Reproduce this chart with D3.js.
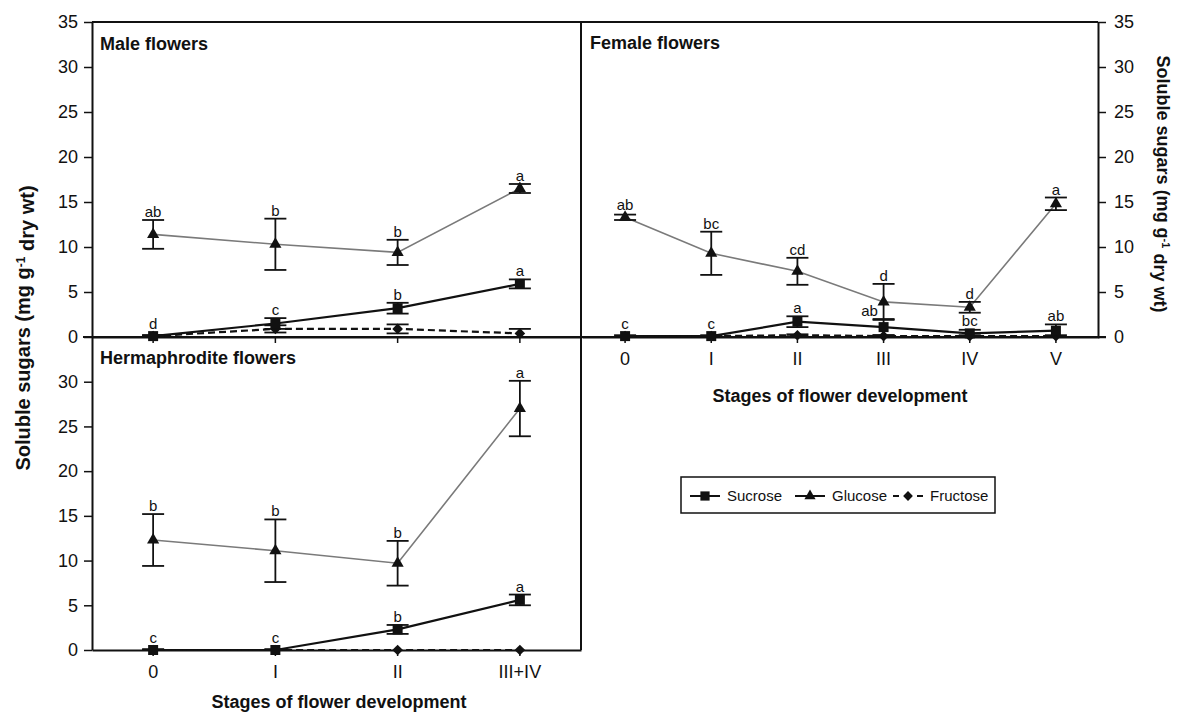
<!DOCTYPE html>
<html>
<head>
<meta charset="utf-8">
<script src="https://cdn.jsdelivr.net/npm/d3@7"></script>
<style>
  body { margin: 0; background: #fff; }
  svg { display: block; }
  text { font-family: "Liberation Sans", Arial, sans-serif; fill: #111; }
</style>
</head>
<body>
<svg id="chart" width="1179" height="716"></svg>
<script>
// ---------- data: soluble sugars (mg g-1 dry wt), mean and SE per stage ----------
const maleStages   = ["0", "I", "II", "III+IV"];
const hermStages   = ["0", "I", "II", "III+IV"];
const femaleStages = ["0", "I", "II", "III", "IV", "V"];

const maleSucrose     = [0.1, 1.5, 3.2, 5.9];
const maleSucroseSE   = [0.1, 0.6, 0.6, 0.5];
const maleSucroseSig  = ["d", "c", "b", "a"];
const maleGlucose     = [11.4, 10.3, 9.4, 16.5];
const maleGlucoseSE   = [1.6, 2.85, 1.4, 0.5];
const maleGlucoseSig  = ["ab", "b", "b", "a"];
const maleFructose    = [0.1, 0.9, 0.9, 0.4];
const maleFructoseSE  = [0.1, 0.4, 0.5, 0.5];

const hermSucrose     = [0.0, 0.0, 2.3, 5.6];
const hermSucroseSE   = [0.1, 0.1, 0.5, 0.6];
const hermSucroseSig  = ["c", "c", "b", "a"];
const hermGlucose     = [12.3, 11.1, 9.7, 27.0];
const hermGlucoseSE   = [2.9, 3.5, 2.5, 3.1];
const hermGlucoseSig  = ["b", "b", "b", "a"];
const hermFructose    = [0.0, 0.0, 0.0, 0.0];
const hermFructoseSE  = [0.0, 0.0, 0.0, 0.0];

const femaleSucrose    = [0.1, 0.1, 1.7, 1.1, 0.4, 0.7];
const femaleSucroseSE  = [0.1, 0.1, 0.6, 0.9, 0.4, 0.7];
const femaleSucroseSig = ["c", "c", "a", "ab", "bc", "ab"];
const femaleGlucose    = [13.3, 9.3, 7.3, 3.9, 3.3, 14.8];
const femaleGlucoseSE  = [0.3, 2.4, 1.5, 2.0, 0.6, 0.7];
const femaleGlucoseSig = ["ab", "bc", "cd", "d", "d", "a"];
const femaleFructose   = [0.1, 0.1, 0.2, 0.1, 0.1, 0.1];
const femaleFructoseSE = [0.0, 0.0, 0.1, 0.1, 0.1, 0.1];

const yTicks     = [0, 5, 10, 15, 20, 25, 30, 35];
const hermYTicks = [0, 5, 10, 15, 20, 25, 30];
const seriesNames = ["Sucrose", "Glucose", "Fructose"];

// ---------- layout ----------
const svg = d3.select("#chart");
const L = 92, MID = 581, R = 1098, TOP = 22, Y0 = 337, BOT = 650;

const styles = {
  Sucrose:  { stroke: "#111", width: 2.2, dash: null,  symbol: d3.symbolSquare,   size: 100 },
  Glucose:  { stroke: "#7a7a7a", width: 1.6, dash: null, symbol: d3.symbolTriangle, size: 64 },
  Fructose: { stroke: "#111", width: 2.2, dash: "7,4", symbol: d3.symbolDiamond2, size: 72 }
};

const panels = [
  { key: "male", title: "Male flowers", stages: maleStages, xr: [L, MID], yr: [Y0, TOP],
    series: {
      Sucrose:  { v: maleSucrose,  se: maleSucroseSE,  sig: maleSucroseSig },
      Glucose:  { v: maleGlucose,  se: maleGlucoseSE,  sig: maleGlucoseSig },
      Fructose: { v: maleFructose, se: maleFructoseSE, sig: null } } },
  { key: "herm", title: "Hermaphrodite flowers", stages: hermStages, xr: [L, MID], yr: [BOT, Y0],
    series: {
      Sucrose:  { v: hermSucrose,  se: hermSucroseSE,  sig: hermSucroseSig },
      Glucose:  { v: hermGlucose,  se: hermGlucoseSE,  sig: hermGlucoseSig },
      Fructose: { v: hermFructose, se: hermFructoseSE, sig: null } } },
  { key: "female", title: "Female flowers", stages: femaleStages, xr: [MID + 1, R + 1], yr: [Y0, TOP],
    series: {
      Sucrose:  { v: femaleSucrose,  se: femaleSucroseSE,  sig: femaleSucroseSig },
      Glucose:  { v: femaleGlucose,  se: femaleGlucoseSE,  sig: femaleGlucoseSig },
      Fructose: { v: femaleFructose, se: femaleFructoseSE, sig: null } } }
];

// letters that sit beside their point instead of above it
const labelShift = { "female-Sucrose-3": -14 };

panels.forEach(p => {
  p.x = d3.scaleBand().domain(p.stages).range(p.xr);
  p.cx = s => p.x(s) + p.x.bandwidth() / 2;
  p.y = d3.scaleLinear().domain([0, 35]).range(p.yr);
});
const [male, herm, female] = panels;

// ---------- axes ----------
function styleAxis(g, fontSize) {
  g.selectAll("path.domain").attr("stroke", "#111").attr("stroke-width", 2);
  g.selectAll(".tick line").attr("stroke", "#111").attr("stroke-width", 1.5);
  g.selectAll(".tick text").style("font-size", fontSize + "px").attr("fill", "#111");
}

svg.append("g").attr("transform", `translate(${L},0)`)
  .call(d3.axisLeft(male.y).tickValues(yTicks).tickSize(8).tickSizeOuter(0).tickPadding(6))
  .call(g => styleAxis(g, 18));
svg.append("g").attr("transform", `translate(${L},0)`)
  .call(d3.axisLeft(herm.y).tickValues(hermYTicks).tickSize(8).tickSizeOuter(0).tickPadding(6))
  .call(g => styleAxis(g, 18));
svg.append("g").attr("transform", `translate(${R},0)`)
  .call(d3.axisRight(female.y).tickValues(yTicks).tickSize(8).tickSizeOuter(0).tickPadding(8))
  .call(g => styleAxis(g, 18));

svg.append("g").attr("transform", `translate(0,${Y0})`)
  .call(d3.axisBottom(male.x).tickSize(6).tickSizeOuter(0).tickFormat(""))
  .call(g => styleAxis(g, 18));
svg.append("g").attr("transform", `translate(0,${Y0})`)
  .call(d3.axisBottom(female.x).tickSize(6).tickSizeOuter(0).tickPadding(9))
  .call(g => styleAxis(g, 18));
svg.append("g").attr("transform", `translate(0,${BOT})`)
  .call(d3.axisBottom(herm.x).tickSize(6).tickSizeOuter(0).tickPadding(9))
  .call(g => styleAxis(g, 18));

// frame lines shared between panels
const frame = svg.append("g").attr("stroke", "#111").attr("stroke-width", 2);
frame.append("line").attr("x1", L).attr("x2", R).attr("y1", TOP).attr("y2", TOP);
frame.append("line").attr("x1", MID).attr("x2", MID).attr("y1", TOP).attr("y2", BOT);
frame.append("line").attr("x1", L - 9).attr("x2", R + 8).attr("y1", Y0).attr("y2", Y0);

// ---------- series ----------
panels.forEach(p => {
  const g = svg.append("g");
  // lines first
  seriesNames.forEach(name => {
    const s = p.series[name], st = styles[name];
    const line = d3.line().x((d, i) => p.cx(p.stages[i])).y(d => p.y(d));
    g.append("path").datum(s.v).attr("d", line)
      .attr("fill", "none").attr("stroke", st.stroke).attr("stroke-width", st.width)
      .attr("stroke-dasharray", st.dash);
  });
  // error bars and markers
  ["Fructose", "Sucrose", "Glucose"].forEach(name => {
    const s = p.series[name], st = styles[name];
    s.v.forEach((v, i) => {
      const cx = p.cx(p.stages[i]);
      if (s.se[i] > 0) {
        const y1 = p.y(v + s.se[i]), y2 = p.y(Math.max(0, v - s.se[i]));
        const eb = g.append("g").attr("stroke", "#111").attr("stroke-width", 1.8);
        eb.append("line").attr("x1", cx).attr("x2", cx).attr("y1", y1).attr("y2", y2);
        eb.append("line").attr("x1", cx - 11).attr("x2", cx + 11).attr("y1", y1).attr("y2", y1);
        eb.append("line").attr("x1", cx - 11).attr("x2", cx + 11).attr("y1", y2).attr("y2", y2);
      }
      g.append("path").attr("d", d3.symbol().type(st.symbol).size(st.size)())
        .attr("transform", `translate(${cx},${p.y(v)})`).attr("fill", "#111");
    });
  });
  // significance letters, just above each error bar (or marker when the bar is tiny)
  ["Sucrose", "Glucose"].forEach(name => {
    const s = p.series[name];
    s.v.forEach((v, i) => {
      const top = Math.min(p.y(v + s.se[i]), p.y(v) - 4);
      const dx = labelShift[`${p.key}-${name}-${i}`] || 0;
      g.append("text").attr("x", p.cx(p.stages[i]) + dx).attr("y", top - 3)
        .attr("text-anchor", "middle").style("font-size", "15px").attr("fill", "#333")
        .text(s.sig[i]);
    });
  });
});

// ---------- titles ----------
const titleStyle = sel => sel.style("font-size", "18px").style("font-weight", "bold");
svg.append("text").attr("x", 100).attr("y", 50).text(male.title).call(titleStyle);
svg.append("text").attr("x", 590).attr("y", 49).text(female.title).call(titleStyle);
svg.append("text").attr("x", 100).attr("y", 364).text(herm.title).call(titleStyle);

svg.append("text").attr("x", 339).attr("y", 708).attr("text-anchor", "middle")
  .text("Stages of flower development").call(titleStyle);
svg.append("text").attr("x", 840).attr("y", 402).attr("text-anchor", "middle")
  .text("Stages of flower development").call(titleStyle);

function yTitle(x, y, angle, size) {
  const t = svg.append("text").attr("transform", `translate(${x},${y}) rotate(${angle})`)
    .attr("text-anchor", "middle").attr("dy", "0.35em").call(titleStyle)
    .style("font-size", size + "px");
  t.append("tspan").text("Soluble sugars (mg g");
  t.append("tspan").attr("dy", "-0.45em").style("font-size", Math.round(size * 0.6) + "px").text("-1");
  t.append("tspan").attr("dy", "0.45em").text(" dry wt)");
}
yTitle(23, 328, -90, 20);
yTitle(1163, 184, 90, 18);

// ---------- legend ----------
const lg = svg.append("g");
lg.append("rect").attr("x", 681).attr("y", 477).attr("width", 314).attr("height", 36)
  .attr("fill", "#fff").attr("stroke", "#111").attr("stroke-width", 1.5);
const legendX = { Sucrose: 690, Glucose: 795, Fructose: 893 };
seriesNames.forEach(name => {
  const st = styles[name], x0 = legendX[name], yc = 496;
  lg.append("line").attr("x1", x0).attr("x2", x0 + 30).attr("y1", yc).attr("y2", yc)
    .attr("stroke", name === "Glucose" ? "#111" : st.stroke).attr("stroke-width", 2)
    .attr("stroke-dasharray", name === "Fructose" ? "6,6" : null);
  lg.append("path").attr("d", d3.symbol().type(st.symbol).size(st.size * 0.85)())
    .attr("transform", `translate(${x0 + 15},${yc})`).attr("fill", "#111");
  lg.append("text").attr("x", x0 + 37).attr("y", yc).attr("dy", "0.35em")
    .style("font-size", "15px").text(name);
});
</script>
</body>
</html>
